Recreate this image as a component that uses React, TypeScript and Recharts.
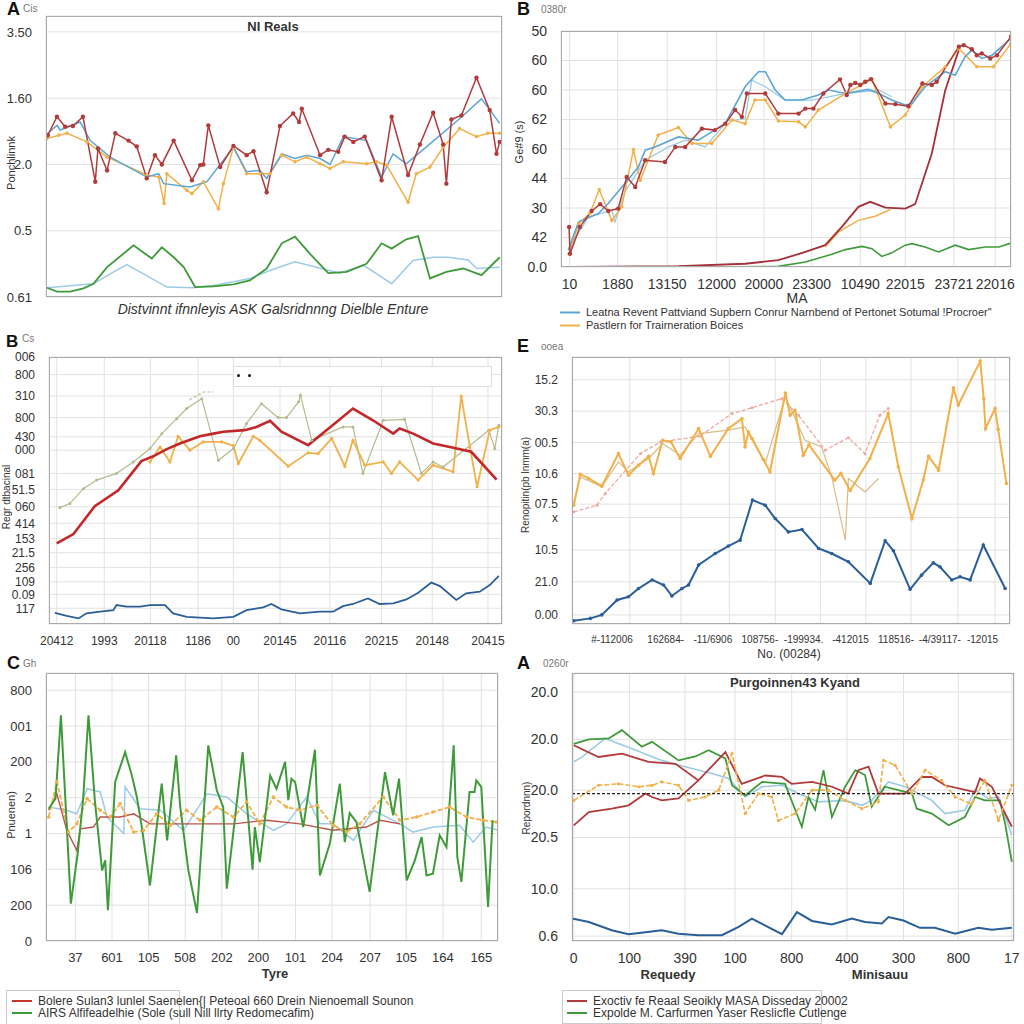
import React from "react";
import { CartesianGrid, Line, LineChart, ReferenceLine, XAxis, YAxis } from "recharts";

type Pt = [number, number];

const FONT = "'Liberation Sans', Arial, sans-serif";

// ---------- top-left panel "A"
const tlYTicks = [0, 1, 2, 3, 4];
const tlYLabels = ["0.61", "0.5", "2.0", "1.60", "3.50"];
const tlXGrid = [13.4, 26.5, 46.9, 62.3, 76.1, 91.1];
const tlRed: Pt[] = [[0.4, 2.44], [2.4, 2.72], [4.2, 2.57], [5.9, 2.58], [8.1, 2.72], [10.8, 1.74], [11.4, 2.24], [13.4, 1.91], [15.2, 2.47], [18.1, 2.36], [19.9, 2.27], [22.1, 1.79], [23.9, 2.14], [25.4, 2.0], [28.0, 2.36], [32.0, 1.76], [33.8, 1.99], [34.5, 2.0], [35.6, 2.59], [38.2, 1.96], [41.1, 2.28], [44.0, 2.14], [45.5, 2.2], [48.4, 1.58], [51.3, 2.58], [54.2, 2.77], [55.5, 2.64], [56.1, 2.84], [60.1, 2.14], [61.9, 2.22], [64.1, 2.19], [65.5, 2.42], [67.4, 2.34], [69.9, 2.42], [73.6, 1.76], [75.8, 2.72], [79.4, 1.84], [82.0, 2.3], [84.9, 2.78], [87.1, 2.3], [87.8, 1.71], [88.9, 2.68], [91.1, 2.74], [94.4, 3.31], [97.3, 2.82], [98.8, 2.16], [99.5, 2.34]];
const tlBlue: Pt[] = [[0.4, 2.47], [2.4, 2.59], [3.1, 2.52], [7.5, 2.64], [9.7, 2.36], [14.1, 2.11], [22.1, 1.81], [24.7, 1.86], [25.8, 1.71], [31.6, 1.66], [35.3, 1.74], [41.1, 2.26], [44.0, 1.89], [46.9, 1.91], [48.4, 1.79], [51.7, 2.16], [54.6, 2.09], [57.2, 2.14], [60.1, 2.09], [62.3, 2.0], [65.2, 2.42], [70.3, 2.36], [73.6, 1.81], [76.1, 2.16], [79.0, 2.01], [84.2, 2.31], [90.7, 2.69], [95.5, 2.99], [99.5, 2.62]];
const tlOrange: Pt[] = [[0.2, 2.39], [2.8, 2.44], [4.6, 2.47], [9.0, 2.34], [13.4, 2.11], [22.1, 1.84], [24.7, 1.81], [25.9, 1.41], [26.5, 1.86], [30.9, 1.61], [32.0, 1.56], [34.5, 1.74], [37.8, 1.33], [38.9, 1.71], [41.1, 2.26], [44.0, 1.86], [46.9, 1.86], [49.1, 1.86], [51.7, 2.14], [54.6, 2.04], [57.2, 2.11], [60.1, 2.01], [62.3, 1.94], [65.2, 2.04], [70.3, 2.01], [72.5, 2.04], [74.7, 1.99], [79.4, 1.43], [81.2, 1.86], [84.2, 1.96], [87.1, 2.26], [90.7, 2.54], [94.4, 2.42], [96.9, 2.47], [99.5, 2.47]];
const tlGreen: Pt[] = [[0.2, 0.14], [2.4, 0.08], [5.3, 0.08], [8.2, 0.13], [10.4, 0.2], [13.4, 0.45], [19.2, 0.78], [23.2, 0.58], [25.4, 0.75], [28.0, 0.6], [30.2, 0.45], [32.7, 0.15], [36.7, 0.16], [41.1, 0.19], [44.7, 0.25], [48.4, 0.43], [51.7, 0.81], [54.6, 0.91], [57.9, 0.65], [61.9, 0.36], [65.9, 0.38], [70.3, 0.5], [73.6, 0.81], [75.8, 0.73], [79.0, 0.87], [81.6, 0.92], [83.1, 0.55], [84.2, 0.28], [87.8, 0.38], [91.5, 0.43], [95.5, 0.33], [99.5, 0.6]];
const tlLowBlue: Pt[] = [[0.2, 0.14], [10.4, 0.2], [14.1, 0.35], [17.7, 0.49], [21.4, 0.35], [26.5, 0.15], [32.3, 0.14], [37.4, 0.18], [44.7, 0.28], [49.1, 0.4], [54.6, 0.53], [59.3, 0.45], [64.5, 0.36], [69.6, 0.48], [75.8, 0.2], [80.5, 0.55], [84.9, 0.6], [88.2, 0.6], [92.6, 0.56], [94.4, 0.43], [99.5, 0.45]];

// ---------- top-right panel "B"
const trYTicks = [0, 1, 2, 3, 4, 5, 6, 7, 8];
const trYLabels = ["0.0", "42", "30", "44", "60", "62", "60", "60", "50"];
const trXTicks = [1.9, 12.6, 23.6, 34.6, 45.1, 55.7, 66.5, 76.5, 87.3, 96.5];
const trXLabels = ["10", "1880", "13150", "12000", "20000", "23300", "10490", "22015", "23721", "22016"];
const trBlue: Pt[] = [[1.6, 0.57], [3.9, 1.53], [8.3, 1.81], [10.5, 2.15], [14.2, 2.83], [17.2, 3.39], [18.7, 3.96], [20.9, 4.07], [26.1, 4.41], [30.5, 4.3], [36.5, 4.86], [40.9, 6.11], [43.9, 6.62], [45.4, 6.62], [47.6, 6.0], [49.8, 5.66], [53.5, 5.66], [57.2, 5.83], [59.5, 6.0], [63.2, 5.88], [68.3, 6.02], [70.6, 5.88], [73.5, 5.66], [76.5, 5.49], [78.0, 5.54], [80.9, 6.11], [85.4, 6.62], [87.6, 6.5], [89.8, 7.13], [91.3, 7.35], [93.5, 7.07], [95.8, 7.18], [100, 7.75]];
const trBlue2: Pt[] = [[2.0, 0.68], [6.1, 1.7], [11.3, 1.92], [12.0, 1.53], [14.2, 2.55], [18.7, 3.62], [23.9, 4.07], [27.6, 4.3], [32.0, 4.07], [37.2, 4.98], [39.0, 4.98], [40.9, 5.03], [42.4, 6.33], [45.4, 6.11], [49.8, 5.66], [55.7, 5.66], [63.2, 5.88], [70.6, 6.0], [73.5, 5.77]];
const trRed: Pt[] = [[1.8, 1.36], [2.0, 0.45], [4.2, 1.36], [6.8, 1.9], [8.7, 2.13], [10.5, 1.9], [12.7, 1.98], [14.6, 3.05], [16.5, 2.71], [18.7, 3.62], [23.1, 3.56], [25.4, 4.07], [27.6, 4.07], [31.3, 4.69], [34.2, 4.64], [36.5, 4.86], [38.7, 5.32], [40.2, 5.09], [41.3, 5.88], [45.4, 5.88], [48.3, 5.2], [52.8, 5.2], [54.3, 5.37], [56.1, 5.37], [58.3, 5.88], [62.0, 6.36], [63.5, 5.83], [64.3, 6.17], [65.4, 6.24], [66.5, 6.17], [67.6, 6.28], [68.9, 6.37], [72.1, 5.54], [74.3, 5.52], [77.2, 5.45], [80.3, 6.22], [82.4, 6.17], [83.5, 6.28], [88.4, 7.47], [89.5, 7.52], [91.3, 7.38], [92.4, 7.18], [93.5, 7.24], [95.4, 7.07], [96.9, 7.18], [100, 7.81]];
const trOrange: Pt[] = [[1.8, 0.45], [3.9, 1.47], [6.4, 1.81], [8.5, 2.62], [11.3, 1.58], [13.5, 2.04], [16.1, 3.98], [17.6, 2.94], [21.6, 4.47], [26.1, 4.73], [29.1, 4.19], [33.5, 4.19], [38.0, 4.98], [40.9, 4.86], [43.1, 5.66], [45.4, 5.66], [48.3, 4.95], [52.8, 4.92], [54.3, 4.75], [57.2, 5.32], [63.2, 5.88], [69.1, 6.36], [73.2, 4.75], [76.5, 5.15], [80.3, 6.11], [85.4, 6.79], [88.4, 7.41], [92.4, 6.79], [96.1, 6.79], [100, 7.58]];
const trRedLow: Pt[] = [[1.6, 0], [26.1, 0.03], [40.9, 0.11], [48.3, 0.23], [54.3, 0.51], [58.7, 0.74], [62.4, 1.36], [66.1, 2.04], [68.7, 2.21], [72.1, 2.01], [76.5, 1.98], [78.7, 2.13], [82.4, 3.85], [85.4, 6.0], [88.4, 7.35]];
const trOrangeLow: Pt[] = [[58.7, 0.68], [61.7, 1.19], [66.1, 1.58], [69.8, 1.72], [73.2, 1.95]];
const trGreen: Pt[] = [[1.6, 0], [33.5, 0], [48.3, 0.02], [54.3, 0.17], [60.2, 0.43], [63.2, 0.59], [66.9, 0.7], [69.1, 0.62], [71.3, 0.36], [73.5, 0.48], [76.5, 0.74], [78.0, 0.79], [80.9, 0.68], [83.9, 0.51], [87.6, 0.74], [90.6, 0.59], [94.3, 0.68], [97.3, 0.68], [100, 0.81]];

// ---------- middle-left panel "B"
const mlYTicks = [5.9, 11.1, 15.8, 21.2, 26.7, 32.0, 37.7, 43.9, 50.4, 56.4, 65.1, 70.1, 77.3, 85.4, 93.4, 100];
const mlYLabels = ["117", "0.09", "109", "256", "21.5", "153", "414", "060", "51.5", "081", "000", "430", "800", "310", "800", "006"];
const mlXTicks = [1.7, 12.2, 22.4, 32.9, 40.7, 51.0, 62.0, 73.4, 84.6, 96.9];
const mlXLabels = ["20412", "1993", "20118", "1186", "00", "20145", "20116", "20215", "20148", "20415"];
const mlRed: Pt[] = [[1.7, 30.2], [5.4, 33.7], [10.1, 44.1], [15.3, 50.1], [20.4, 61.0], [23.0, 62.8], [26.0, 65.5], [28.9, 67.6], [33.3, 70.3], [36.3, 71.3], [38.5, 72.0], [43.2, 72.6], [45.8, 73.8], [48.8, 76.1], [51.3, 72.0], [53.9, 69.8], [57.2, 67.0], [62.0, 73.6], [67.1, 80.7], [71.5, 76.3], [76.0, 71.3], [77.4, 73.2], [80.4, 71.3], [84.8, 67.6], [88.5, 66.3], [93.2, 64.5], [98.8, 54.1]];
const mlOlive: Pt[] = [[2.4, 43.6], [4.6, 45.1], [7.6, 50.7], [10.5, 53.9], [14.9, 56.4], [18.6, 60.7], [22.3, 65.7], [24.9, 71.3], [28.2, 76.9], [30.4, 80.7], [33.7, 84.4], [37.4, 61.3], [40.7, 65.7], [43.6, 75.1], [46.9, 82.5], [50.6, 77.3], [52.4, 77.3], [55.1, 83.2], [55.5, 85.7], [58.0, 68.8], [64.9, 73.8], [67.1, 73.8], [69.3, 56.4], [73.8, 76.3], [78.5, 76.6], [82.2, 56.4], [84.8, 60.7], [87.0, 58.8], [97.1, 72.6], [98.4, 65.7], [99.3, 74.4]];
const mlOliveTop: Pt[] = [[31.0, 84.0], [34.1, 86.9], [36.3, 86.9]];
const mlOrange: Pt[] = [[22.3, 60.7], [24.5, 66.3], [26.7, 60.7], [28.5, 70.3], [31.1, 65.1], [34.0, 68.2], [38.1, 68.2], [40.7, 66.8], [41.8, 60.1], [45.1, 70.3], [46.5, 68.8], [52.8, 59.1], [57.2, 64.1], [59.4, 63.8], [62.4, 69.5], [65.3, 59.1], [67.1, 68.8], [69.7, 59.5], [73.8, 60.7], [75.6, 56.4], [77.4, 60.7], [81.5, 53.9], [84.8, 59.5], [89.2, 57.0], [91.0, 85.4], [92.9, 66.3], [94.5, 51.4], [97.3, 72.6], [99.3, 73.8]];
const mlBlue: Pt[] = [[1.3, 4.2], [3.9, 3.0], [6.5, 2.1], [8.3, 4.0], [11.3, 4.6], [14.2, 5.2], [14.9, 7.1], [17.1, 6.5], [20.1, 6.5], [22.3, 7.1], [25.6, 7.1], [27.4, 4.0], [30.4, 2.7], [36.3, 2.1], [40.7, 2.7], [43.6, 5.2], [47.3, 6.2], [49.1, 7.5], [51.3, 5.5], [55.4, 4.0], [59.8, 4.6], [62.7, 4.6], [64.9, 6.7], [67.1, 7.5], [70.4, 9.6], [73.0, 7.5], [76.0, 7.7], [78.9, 9.2], [81.5, 11.7], [84.4, 15.5], [86.3, 14.2], [89.9, 9.0], [92.1, 11.5], [95.1, 12.1], [97.3, 14.6], [99.3, 18.0]];

// ---------- middle-right panel "E"
const mrYTicks = [3.4, 15.8, 27.7, 39.9, 44.9, 56.4, 68.0, 79.7, 91.5];
const mrYLabels = ["0.00", "21.0", "10.5", "x", "07.5", "10.6", "00.5", "30.3", "15.2"];
const mrXTicks = [13.2, 24.9, 35.9, 46.4, 56.7, 67.1, 77.4, 88.1, 96.6];
const mrXLabels = ["#-112006", "162684-", "-11/6906", "108756-", "-199934.", "-412015", "118516-", "-4/39117-", "-12015"];
const mrOrange: Pt[] = [[0.4, 44.5], [1.9, 56.1], [3.8, 54.5], [6.8, 51.6], [10.6, 63.8], [12.9, 55.7], [15.2, 59.5], [17.5, 62.8], [18.6, 56.4], [20.7, 68.8], [22.6, 68.2], [24.7, 62.0], [28.9, 73.2], [31.6, 62.8], [35.7, 73.2], [38.8, 76.9], [39.5, 66.3], [40.3, 71.9], [41.1, 69.5], [43.7, 61.6], [45.2, 57.0], [48.7, 86.5], [49.8, 78.2], [50.9, 80.0], [52.8, 63.2], [54.1, 67.1], [60.0, 53.9], [61.4, 56.4], [63.5, 50.0], [68.0, 62.0], [72.2, 78.8], [74.5, 58.9], [77.6, 39.5], [80.2, 53.9], [81.4, 62.8], [83.7, 57.6], [87.1, 88.5], [88.2, 82.0], [93.2, 98.5], [94.0, 84.3], [94.4, 73.2], [96.6, 80.7], [97.3, 72.9], [99.2, 52.6]];
const mrTan: Pt[] = [[0.4, 45.1], [1.9, 55.1], [6.8, 51.4], [10.6, 60.7], [12.9, 57.0], [17.5, 62.0], [20.7, 67.6], [24.7, 63.2], [28.9, 71.3], [35.7, 72.6], [39.5, 73.8], [44.1, 60.1], [48.7, 85.0], [53.2, 68.8], [57.0, 66.3], [59.3, 55.1], [62.4, 31.4], [63.1, 54.5], [66.9, 49.5], [70.0, 54.5]];
const mrPink: Pt[] = [[0.4, 42.0], [5.7, 44.5], [7.6, 48.9], [15.6, 63.8], [20.2, 68.2], [29.1, 70.3], [36.5, 78.8], [41.1, 81.0], [47.9, 84.4], [51.7, 78.2], [57.8, 65.1], [63.1, 69.8], [66.9, 63.8], [70.3, 78.2], [72.2, 80.7]];
const mrBlue: Pt[] = [[0.4, 1.2], [4.2, 2.1], [6.8, 3.4], [10.3, 9.0], [12.9, 10.2], [15.2, 13.3], [18.3, 16.5], [20.9, 14.6], [22.8, 10.5], [25.1, 13.3], [26.6, 14.6], [28.9, 22.1], [32.7, 26.4], [35.7, 29.2], [38.4, 31.4], [41.2, 46.4], [44.1, 44.5], [46.4, 39.5], [49.4, 34.5], [52.5, 35.4], [56.3, 28.3], [59.3, 26.4], [63.1, 23.3], [68.1, 15.2], [71.5, 31.2], [73.4, 27.4], [77.2, 13.0], [79.8, 18.3], [82.5, 22.9], [84.0, 21.4], [86.7, 16.5], [88.6, 17.7], [90.9, 16.5], [93.9, 29.6], [98.9, 13.3]];

// ---------- bottom-left panel "C"
const blYTicks = [0, 1, 2, 3, 4, 5, 6, 7];
const blYLabels = ["0", "200", "106", "1", "2", "200", "001", "800"];
const blXTicks = [6.5, 14.6, 22.7, 30.8, 38.9, 47.0, 55.2, 63.3, 71.7, 79.7, 87.8, 96.3];
const blXLabels = ["37", "601", "105", "508", "202", "200", "101", "204", "207", "105", "164", "165"];
const blGreen: Pt[] = [[0.6, 3.69], [2.1, 3.97], [3.3, 6.3], [5.5, 1.04], [7.0, 2.44], [8.2, 3.93], [9.4, 6.3], [10.8, 3.93], [12.4, 1.97], [13.1, 2.25], [13.7, 0.86], [15.3, 4.44], [17.5, 5.27], [19.0, 4.62], [20.1, 4.02], [21.2, 3.18], [23.0, 1.55], [25.6, 4.39], [26.8, 2.81], [28.8, 5.18], [29.7, 3.74], [31.5, 1.97], [33.4, 0.78], [35.9, 5.46], [37.8, 4.2], [39.2, 3.74], [40.0, 1.46], [43.5, 5.27], [45.7, 1.99], [46.2, 3.18], [47.3, 2.2], [49.6, 4.62], [51.0, 4.25], [52.9, 5.0], [53.6, 3.93], [54.3, 4.53], [55.1, 4.44], [56.9, 3.18], [59.5, 5.34], [60.6, 1.83], [62.8, 2.72], [65.0, 4.39], [66.1, 2.76], [67.2, 3.57], [68.7, 3.32], [71.6, 1.37], [75.0, 4.71], [76.8, 3.51], [78.1, 4.53], [79.8, 1.69], [81.6, 2.25], [83.1, 2.9], [84.2, 1.83], [85.6, 1.88], [87.1, 2.95], [88.6, 2.62], [90.2, 5.46], [91.0, 2.34], [91.9, 1.65], [93.7, 4.16], [94.8, 4.16], [95.2, 4.48], [96.3, 4.3], [97.8, 0.95], [98.8, 3.37]];
const blOrange: Pt[] = [[0.6, 3.46], [2.4, 4.44], [5.0, 3.04], [6.8, 3.27], [9.1, 3.97], [12.0, 3.65], [14.2, 3.46], [16.4, 3.83], [19.4, 3.04], [21.6, 3.09], [24.5, 3.55], [27.5, 3.23], [31.1, 3.65], [34.1, 3.37], [37.8, 3.74], [41.5, 3.46], [44.4, 3.88], [47.3, 3.27], [50.3, 4.02], [53.2, 3.74], [56.2, 3.65], [59.9, 3.79], [63.5, 3.23], [66.5, 3.04], [69.4, 3.27], [74.6, 4.02], [78.3, 3.37], [82.0, 3.46], [85.6, 3.6], [89.3, 3.74], [93.0, 3.46], [96.7, 3.37], [99.6, 3.32]];
const blBlue: Pt[] = [[0.6, 3.74], [4.6, 3.65], [6.8, 3.55], [9.1, 4.25], [12.0, 4.16], [13.5, 3.46], [17.2, 3.0], [17.5, 4.3], [20.8, 3.69], [25.3, 3.65], [30.4, 3.09], [35.6, 4.11], [40.0, 4.02], [44.4, 3.55], [50.3, 3.09], [53.2, 3.27], [57.7, 4.02], [60.6, 3.27], [63.5, 3.27], [68.0, 2.81], [72.4, 3.65], [78.3, 3.27], [81.2, 3.04], [85.6, 3.18], [91.5, 3.23], [94.5, 2.76], [97.4, 3.18], [100, 3.09]];
const blRed: Pt[] = [[0.6, 3.65], [2.4, 4.11], [4.6, 3.09], [6.8, 2.53], [7.6, 3.13], [10.5, 3.18], [12.0, 3.46], [16.4, 3.46], [19.4, 3.55], [23.0, 3.27], [26.7, 3.27], [34.1, 3.27], [41.5, 3.27], [48.8, 3.37], [56.2, 3.27], [63.5, 3.09], [70.9, 3.18], [73.9, 3.37], [78.3, 3.27]];

// ---------- bottom-right panel "A"
const brYTicks = [0.1, 1.07, 2.12, 3.09, 4.13, 5.1];
const brYLabels = ["0.6", "10.0", "20.5", "20.0", "20.0", "20.0"];
const brXTicks = [0.4, 13.0, 25.6, 36.9, 49.7, 62.2, 75.0, 87.4, 99.5];
const brXLabels = ["0", "100", "390", "100", "800", "400", "300", "800", "17"];
const brBaseline = 3.02;
const brBlue: Pt[] = [[0, 0.46], [3.8, 0.39], [9.0, 0.22], [12.8, 0.14], [16.6, 0.18], [20.3, 0.22], [24.1, 0.15], [28.6, 0.12], [33.9, 0.12], [37.7, 0.29], [40.7, 0.46], [47.5, 0.14], [50.9, 0.59], [54.3, 0.41], [58.8, 0.34], [63.3, 0.46], [66.3, 0.39], [70.1, 0.36], [71.6, 0.49], [75.0, 0.42], [78.7, 0.27], [82.1, 0.27], [86.7, 0.15], [91.9, 0.27], [95.0, 0.23], [99.5, 0.27]];
const brRedLow: Pt[] = [[0.4, 2.37], [3.8, 2.64], [9.0, 2.71], [12.8, 2.78], [16.6, 3.02], [18.1, 2.95], [20.3, 2.88], [24.1, 2.92], [28.6, 3.29]];
const brRed: Pt[] = [[0.4, 4.01], [6.0, 3.77], [11.3, 3.84], [17.3, 3.67], [23.4, 3.63], [28.6, 3.29], [34.7, 3.87], [38.4, 3.22], [43.7, 3.39], [47.5, 3.36], [49.7, 3.22], [54.3, 3.26], [58.8, 3.16], [62.5, 3.02], [64.8, 3.5], [67.1, 3.57], [69.3, 3.02], [75.4, 3.02], [79.1, 3.36], [81.4, 3.36], [84.4, 3.19], [91.2, 3.05], [92.3, 3.33], [95.0, 3.16], [99.5, 2.34]];
const brGreen: Pt[] = [[0.4, 4.04], [3.8, 4.13], [8.3, 4.15], [11.3, 4.32], [15.8, 3.98], [18.1, 4.08], [24.1, 3.7], [27.9, 3.78], [30.9, 3.91], [34.7, 3.74], [36.2, 3.19], [39.2, 2.98], [43.0, 3.26], [48.2, 3.22], [52.0, 2.34], [53.5, 2.95], [55.0, 2.69], [56.9, 3.5], [58.8, 2.54], [61.8, 3.16], [64.1, 3.5], [66.3, 3.4], [67.8, 2.75], [70.8, 3.16], [76.9, 3.02], [78.0, 2.71], [81.4, 2.61], [85.2, 2.37], [88.9, 2.54], [91.2, 2.95], [93.4, 2.88], [96.8, 2.88], [98.0, 2.4], [99.5, 1.62]];
const brLightBlue: Pt[] = [[0.4, 3.67], [2.3, 3.77], [7.5, 4.15], [13.6, 3.94], [20.3, 3.7], [25.6, 3.57], [31.7, 3.43], [35.4, 3.33], [39.2, 2.95], [43.0, 3.16], [47.5, 3.19], [51.2, 3.02], [55.8, 2.85], [61.8, 2.88], [65.6, 2.78], [67.8, 2.88], [71.6, 3.26], [75.4, 3.16], [81.4, 2.88], [84.4, 2.61], [88.9, 2.68], [91.2, 3.09], [94.2, 2.92], [96.5, 2.95], [99.5, 2.17]];
const brOrange: Pt[] = [[0.4, 2.88], [6.0, 3.19], [10.5, 3.22], [15.1, 3.16], [18.1, 3.19], [20.3, 3.26], [24.1, 3.19], [26.4, 2.88], [30.1, 2.95], [33.2, 3.09], [36.2, 3.84], [39.2, 2.61], [42.2, 3.02], [45.2, 2.95], [46.7, 2.47], [50.5, 2.61], [54.3, 3.09], [58.0, 3.09], [61.8, 2.88], [65.6, 2.71], [69.3, 2.85], [70.5, 3.7], [73.1, 3.6], [76.9, 3.02], [79.9, 3.5], [83.6, 3.29], [86.7, 2.95], [90.4, 2.81], [93.4, 3.29], [96.5, 2.47], [99.5, 3.19]];

interface Series {
  data: Pt[];
  color: string;
  width?: number;
  dot?: number;
  dash?: string;
  opacity?: number;
}

interface PanelProps {
  box: [number, number, number, number];
  yDomain: [number, number];
  yTicks: number[];
  yLabels: string[];
  xTicks: number[];
  xLabels?: string[];
  series: Series[];
  tickSize?: number;
  xTickSize?: number;
  xAnchor?: "middle" | "end";
  refY?: number;
}

function Panel({ box, yDomain, yTicks, yLabels, xTicks, xLabels, series, tickSize = 13, xTickSize, xAnchor = "middle", refY }: PanelProps) {
  const [x0, y0, x1, y1] = box;
  const padL = 60, padT = 10, padR = 10, padB = 30;
  return (
    <>
      <div style={{ position: "absolute", left: x0 - padL, top: y0 - padT }}>
        <LineChart width={x1 - x0 + padL + padR} height={y1 - y0 + padT + padB} margin={{ top: padT, right: padR, bottom: 0, left: 0 }}>
          <CartesianGrid stroke="#e2e2e2" strokeWidth={1} />
          <XAxis
            type="number"
            dataKey="x"
            domain={[0, 100]}
            allowDataOverflow
            ticks={xTicks}
            interval={0}
            height={padB}
            axisLine={false}
            tickLine={false}
            tickMargin={6}
            tick={xLabels ? { fontSize: xTickSize ?? tickSize, fill: "#333", textAnchor: xAnchor, dx: xAnchor === "end" ? 3 : 0 } : false}
            tickFormatter={(v: number) => (xLabels ? xLabels[xTicks.indexOf(v)] ?? "" : "")}
          />
          <YAxis
            type="number"
            domain={yDomain}
            allowDataOverflow
            ticks={yTicks}
            interval={0}
            width={padL}
            axisLine={false}
            tickLine={false}
            tickMargin={8}
            tick={{ fontSize: tickSize, fill: "#333" }}
            tickFormatter={(v: number) => yLabels[yTicks.indexOf(v)] ?? ""}
          />
          {series.map((s, i) => (
            <Line
              key={i}
              data={s.data.map(([x, y]) => ({ x, y }))}
              dataKey="y"
              type="linear"
              stroke={s.color}
              strokeWidth={s.width ?? 1.5}
              strokeDasharray={s.dash}
              strokeOpacity={s.opacity ?? 1}
              dot={s.dot ? { r: s.dot, fill: s.color, stroke: "none" } : false}
              activeDot={false}
              isAnimationActive={false}
            />
          ))}
          {refY !== undefined && <ReferenceLine y={refY} stroke="#222" strokeDasharray="3 2" strokeWidth={1.2} />}
        </LineChart>
      </div>
      <div style={{ position: "absolute", left: x0, top: y0, width: x1 - x0, height: y1 - y0, border: "1px solid #aaa", boxSizing: "border-box", pointerEvents: "none" }} />
    </>
  );
}

function T({ x, y, children, size = 13, bold, italic, color = "#333", anchor = "left" }: { x: number; y: number; children: React.ReactNode; size?: number; bold?: boolean; italic?: boolean; color?: string; anchor?: "left" | "center" }) {
  return (
    <div style={{ position: "absolute", left: x, top: y, transform: anchor === "center" ? "translate(-50%,-50%)" : "translateY(-50%)", fontSize: size, fontWeight: bold ? 700 : 400, fontStyle: italic ? "italic" : "normal", color, whiteSpace: "nowrap", lineHeight: 1 }}>
      {children}
    </div>
  );
}

function V({ x, y, children, size = 11 }: { x: number; y: number; children: React.ReactNode; size?: number }) {
  return (
    <div style={{ position: "absolute", left: x, top: y, transform: "translate(-50%,-50%) rotate(-90deg)", fontSize: size, color: "#333", whiteSpace: "nowrap", lineHeight: 1 }}>
      {children}
    </div>
  );
}

function Key({ x, y, color, label, size = 12 }: { x: number; y: number; color: string; label: string; size?: number }) {
  return (
    <div style={{ position: "absolute", left: x, top: y, transform: "translateY(-50%)", display: "flex", alignItems: "center", fontSize: size, color: "#333", whiteSpace: "nowrap", lineHeight: 1 }}>
      <span style={{ display: "inline-block", width: 20, height: 2, background: color, marginRight: 6 }} />
      {label}
    </div>
  );
}

const RED = "#b23a3a";
const BLUE = "#5ca6d6";
const LBLUE = "#9ccbe6";
const ORANGE = "#f2b04a";
const GREEN = "#3f9a3a";
const NAVY = "#2a5e98";

export default function App() {
  return (
    <div style={{ position: "absolute", left: 0, top: 0, width: 1024, height: 1024, background: "#fff", fontFamily: FONT, overflow: "hidden" }}>
      {/* top-left */}
      <T x={7} y={9} size={18} bold color="#111">A</T>
      <T x={23} y={9} size={10} color="#777">Cis</T>
      <Panel
        box={[46, 16, 502, 297]}
        yDomain={[0, 4.24]}
        yTicks={tlYTicks}
        yLabels={tlYLabels}
        xTicks={tlXGrid}
        series={[
          { data: tlLowBlue, color: LBLUE, width: 1.5 },
          { data: tlGreen, color: GREEN, width: 1.8 },
          { data: tlOrange, color: ORANGE, width: 1.5, dot: 1.8 },
          { data: tlBlue, color: BLUE, width: 1.5 },
          { data: tlRed, color: RED, width: 1.5, dot: 2.2 },
        ]}
      />
      <T x={273} y={26} size={13} bold color="#333" anchor="center">NI Reals</T>
      <T x={273} y={309} size={14} italic color="#333" anchor="center">Distvinnt ifnnleyis ASK Galsridnnng Dielble Enture</T>
      <V x={11} y={163}>Ponchlinnk</V>

      {/* top-right */}
      <T x={517} y={9} size={18} bold color="#111">B</T>
      <T x={541} y={10} size={10} color="#777">0380r</T>
      <Panel
        box={[561, 31, 1011, 267]}
        yDomain={[0, 8]}
        yTicks={trYTicks}
        yLabels={trYLabels}
        xTicks={trXTicks}
        xLabels={trXLabels}
        tickSize={14}
        series={[
          { data: trGreen, color: GREEN, width: 1.6 },
          { data: trOrangeLow, color: ORANGE, width: 1.5 },
          { data: trRedLow, color: "#a5303a", width: 1.8 },
          { data: trBlue2, color: LBLUE, width: 1.3 },
          { data: trOrange, color: ORANGE, width: 1.5, dot: 1.8 },
          { data: trBlue, color: BLUE, width: 1.6 },
          { data: trRed, color: RED, width: 1.5, dot: 2.2 },
        ]}
      />
      <T x={797} y={298} size={14} color="#333" anchor="center">MA</T>
      <V x={519} y={142}>Ge#9 (s)</V>
      <Key x={560} y={312} size={11} color={BLUE} label={"Leatna Revent Pattviand Supbern Conrur Narnbend of Pertonet Sotumal !Procroer\""} />
      <Key x={560} y={325} size={11} color={ORANGE} label="Pastlern for Trairneration Boices" />

      {/* middle-left */}
      <T x={6} y={341} size={17} bold color="#111">B</T>
      <T x={22} y={339} size={10} color="#777">Cs</T>
      <Panel
        box={[49, 357, 502, 624]}
        yDomain={[0, 100]}
        yTicks={mlYTicks}
        yLabels={mlYLabels}
        xTicks={mlXTicks}
        xLabels={mlXLabels}
        tickSize={12}
        series={[
          { data: mlBlue, color: NAVY, width: 1.8 },
          { data: mlOliveTop, color: "#b7c08f", width: 1.2, dash: "3 2" },
          { data: mlOlive, color: "#b3bb8c", width: 1.2, dot: 1.5 },
          { data: mlOrange, color: ORANGE, width: 1.8, dot: 1.6 },
          { data: mlRed, color: "#c2282a", width: 2.6 },
        ]}
      />
      <div style={{ position: "absolute", left: 233, top: 366, width: 257, height: 19, border: "1px solid #ddd", background: "#fff" }} />
      <div style={{ position: "absolute", left: 237, top: 374, width: 3, height: 3, borderRadius: 2, background: "#111" }} />
      <div style={{ position: "absolute", left: 248, top: 374, width: 3, height: 3, borderRadius: 2, background: "#111" }} />
      <V x={7} y={497} size={10}>Regr dtbacinal</V>

      {/* middle-right */}
      <T x={517} y={346} size={18} bold color="#111">E</T>
      <T x={541} y={347} size={10} color="#777">ooea</T>
      <Panel
        box={[572, 357, 1010, 624]}
        yDomain={[0, 100]}
        yTicks={mrYTicks}
        yLabels={mrYLabels}
        xTicks={mrXTicks}
        xLabels={mrXLabels}
        tickSize={12}
        xTickSize={10}
        xAnchor="end"
        series={[
          { data: mrPink, color: "#f2a7a0", width: 1.3, dash: "4 2", dot: 1.5 },
          { data: mrTan, color: "#d8bc86", width: 1.2 },
          { data: mrOrange, color: ORANGE, width: 2, dot: 1.8 },
          { data: mrBlue, color: NAVY, width: 2, dot: 1.8 },
        ]}
      />
      <T x={789} y={654} size={12} color="#333" anchor="center">No. (00284)</T>
      <V x={526} y={485} size={10}>Renopitin(pb lnmm(a)</V>

      {/* bottom-left */}
      <T x={7} y={663} size={18} bold color="#111">C</T>
      <T x={23} y={664} size={10} color="#777">Gh</T>
      <Panel
        box={[46, 673, 498, 941]}
        yDomain={[0, 7.48]}
        yTicks={blYTicks}
        yLabels={blYLabels}
        xTicks={blXTicks}
        xLabels={blXLabels}
        series={[
          { data: blBlue, color: LBLUE, width: 1.5 },
          { data: blRed, color: "#c0504a", width: 1.4 },
          { data: blOrange, color: ORANGE, width: 1.8, dash: "5 2", dot: 1.8 },
          { data: blGreen, color: GREEN, width: 2 },
        ]}
      />
      <T x={275} y={973} size={13} bold color="#333" anchor="center">Tyre</T>
      <V x={11} y={815}>Pnuenen)</V>
      <div style={{ position: "absolute", left: 6, top: 990, width: 172, height: 40, border: "1px solid #ccc" }} />
      <Key x={12} y={1001} color="#c0392b" label="Bolere Sulan3 lunlel Saenelen{| Peteoal 660 Drein Nienoemall Sounon" />
      <Key x={12} y={1013} color={GREEN} label="AIRS Alfifeadelhie (Sole (sull Nill llrty Redomecafim)" />

      {/* bottom-right */}
      <T x={517} y={663} size={18} bold color="#111">A</T>
      <T x={543} y={664} size={10} color="#777">0260r</T>
      <Panel
        box={[572, 673, 1014, 941]}
        yDomain={[0, 5.49]}
        yTicks={brYTicks}
        yLabels={brYLabels}
        xTicks={brXTicks}
        xLabels={brXLabels}
        tickSize={14}
        refY={brBaseline}
        series={[
          { data: brBlue, color: NAVY, width: 2 },
          { data: brLightBlue, color: LBLUE, width: 1.6 },
          { data: brGreen, color: GREEN, width: 1.8 },
          { data: brRedLow, color: RED, width: 1.8 },
          { data: brRed, color: RED, width: 1.8 },
          { data: brOrange, color: ORANGE, width: 1.6, dash: "5 2", dot: 1.6 },
        ]}
      />
      <T x={795} y={682} size={13} bold color="#333" anchor="center">Purgoinnen43 Kyand</T>
      <T x={668} y={974} size={13} bold color="#333" anchor="center">Requedy</T>
      <T x={880} y={974} size={13} bold color="#333" anchor="center">Minisauu</T>
      <V x={527} y={808} size={10}>Repordnnn)</V>
      <div style={{ position: "absolute", left: 562, top: 990, width: 258, height: 32, border: "1px solid #ccc" }} />
      <Key x={567} y={1001} color={RED} label="Exoctiv fe Reaal Seoikly MASA Disseday 20002" />
      <Key x={567} y={1013} color={GREEN} label="Expolde M. Carfurmen Yaser Reslicfle Cutlenge" />
    </div>
  );
}
